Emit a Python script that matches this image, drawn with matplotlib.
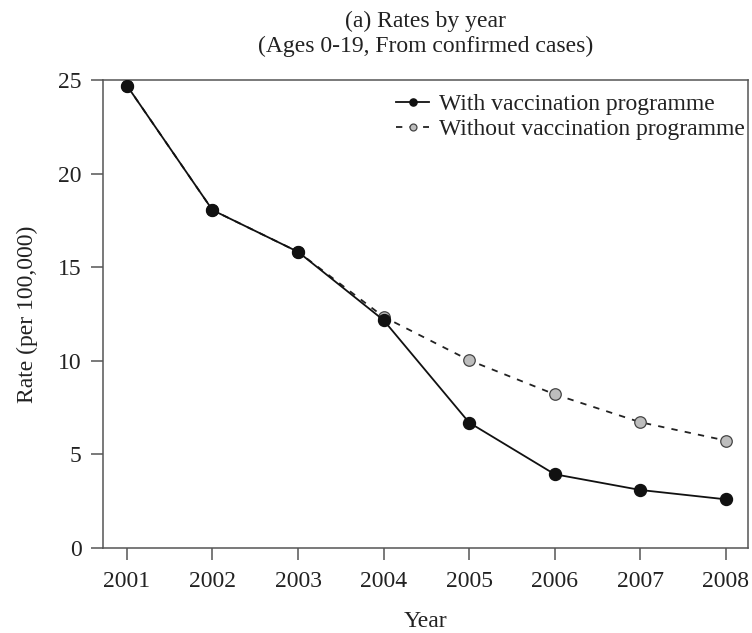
import matplotlib
matplotlib.use("Agg")
import matplotlib.pyplot as plt

years = [2001, 2002, 2003, 2004, 2005, 2006, 2007, 2008]
with_vacc = [24.7, 18.05, 15.82, 12.17, 6.70, 3.94, 3.10, 2.60]
without_vacc = [24.7, 18.05, 15.82, 12.35, 10.03, 8.21, 6.72, 5.74]
y_ticks = [0, 5, 10, 15, 20, 25]

plt.rcParams['font.family'] = ['Liberation Serif', 'DejaVu Serif']
FS = 17
TXT = '#222222'

fig = plt.figure(figsize=(7.52, 6.33), dpi=100)
ax = fig.add_axes([103/752, 1-548/633, (748-103)/752, (548-80)/633])

ax.plot(years, without_vacc, linestyle=(0, (3.5, 4.0)), color='#222222', lw=1.3,
        marker='o', ms=8.3, mfc='#bdbdbd', mec='#444444', mew=0.9,
        label='Without vaccination programme', zorder=2)
ax.plot(years, with_vacc, linestyle='-', color='#111111', lw=1.3,
        marker='o', ms=8.6, mfc='#111111', mec='#111111',
        label='With vaccination programme', zorder=3)

ax.set_xlim(2000.72, 2008.26)
ax.set_ylim(0, 25)
ax.set_xticks(years)
ax.set_yticks(y_ticks)
for s in ax.spines.values():
    s.set_color('#555555')
    s.set_linewidth(1.1)
ax.tick_params(axis='both', direction='out', length=8.5, width=1.1, color='#555555',
               labelsize=FS, labelcolor=TXT)
ax.tick_params(axis='x', pad=8)
ax.tick_params(axis='y', pad=7)

ax.set_xlabel('Year', fontsize=FS, color=TXT, labelpad=14)
ax.set_ylabel('Rate (per 100,000)', fontsize=FS, color=TXT, labelpad=14)
ax.set_title('(a) Rates by year\n(Ages 0-19, From confirmed cases)', fontsize=FS,
             color=TXT, pad=20, linespacing=1.25)

h, l = ax.get_legend_handles_labels()
leg = ax.legend([h[1], h[0]], [l[1], l[0]], loc='upper right',
                bbox_to_anchor=(1.0, 0.978), frameon=False,
                fontsize=FS, handlelength=1.4, handletextpad=0.4, labelspacing=0.15,
                markerscale=0.6, borderaxespad=0.0, borderpad=0.15)
for t in leg.get_texts():
    t.set_color(TXT)

fig.savefig('out.png', dpi=100)
